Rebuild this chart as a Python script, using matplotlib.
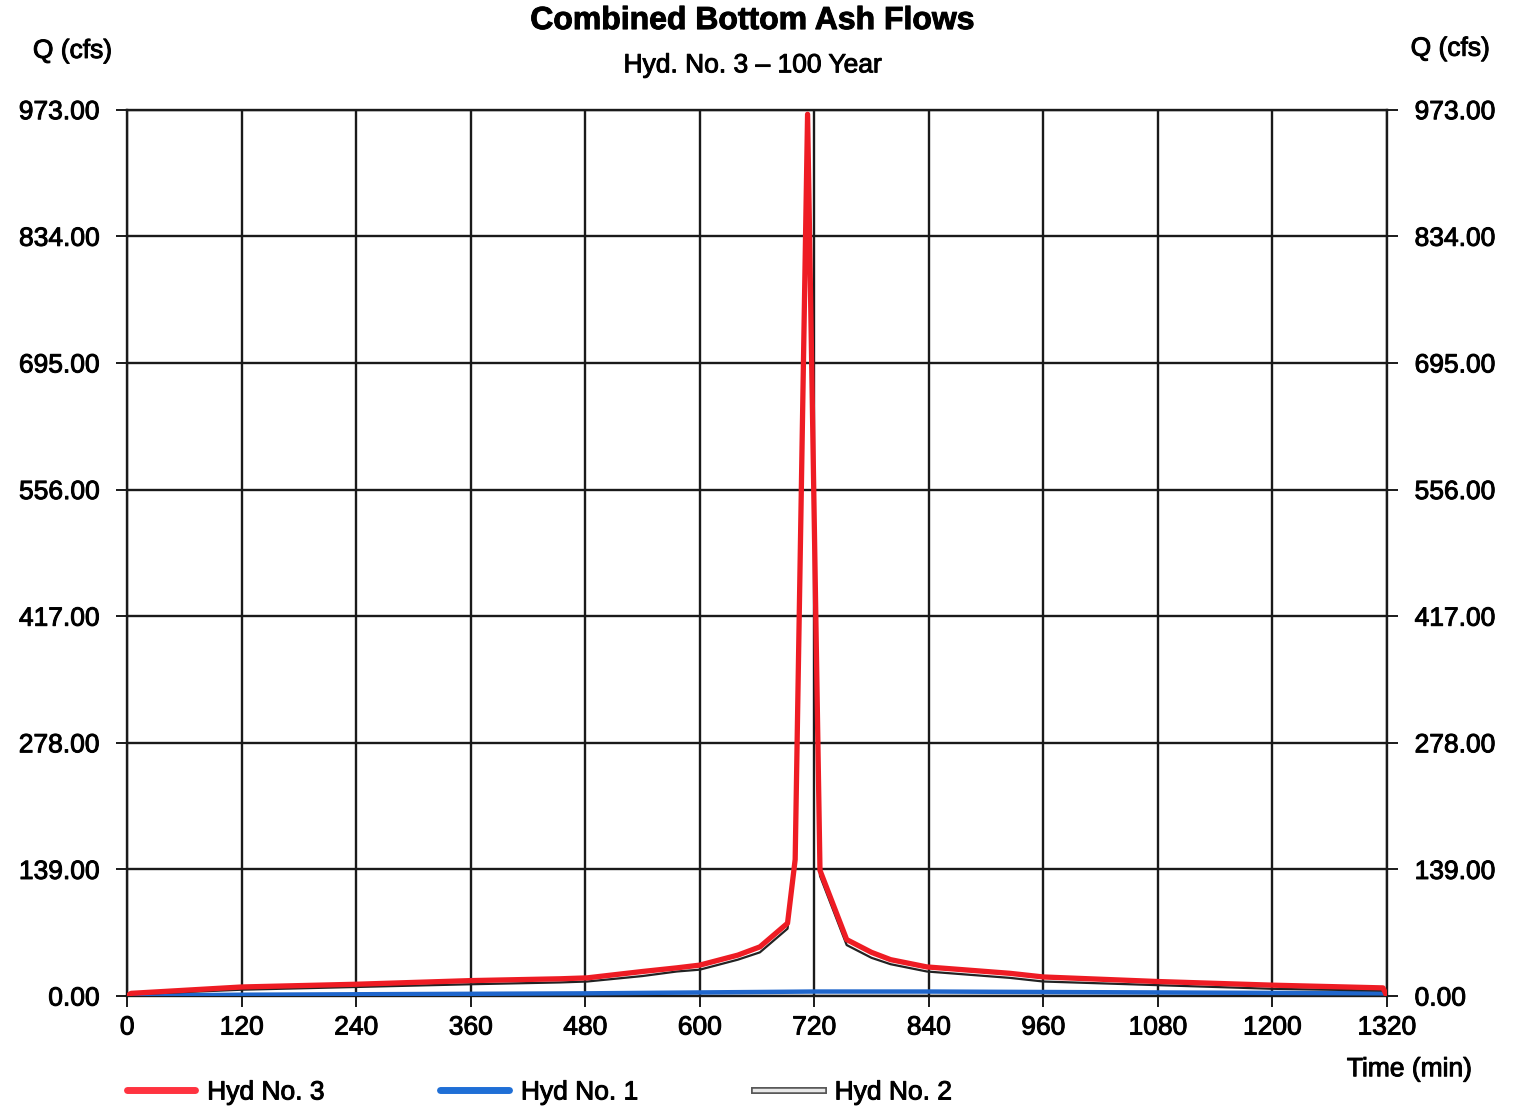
import matplotlib
matplotlib.use("Agg")
import matplotlib.pyplot as plt
from matplotlib.lines import Line2D
import matplotlib.patheffects as pe

plt.rcParams["font.family"] = ["Liberation Sans", "DejaVu Sans"]

# ─── data ────────────────────────────────────────────────────────────────────

Y_TICKS = [0, 139, 278, 417, 556, 695, 834, 973]
X_TICKS = list(range(0, 1321, 120))

# Hyd No. 3 (combined)
t3 = [0, 4, 120, 240, 360, 454, 482, 540, 576, 600, 640, 663, 692, 700, 713,
      726, 754, 780, 800, 838, 925, 960, 1080, 1200, 1316, 1320]
q3 = [0, 3, 10, 13, 17, 19, 20, 27, 31, 34, 45, 54, 80, 150, 968,
      138, 62, 48, 40, 32, 25, 21, 16, 12, 9, 0]

# Hyd No. 1
t1 = [0, 120, 240, 360, 480, 600, 720, 840, 960, 1080, 1200, 1320]
q1 = [0.5, 1.5, 2.0, 2.5, 3.0, 4.0, 5.0, 5.0, 4.5, 4.0, 3.5, 3.0]

# Hyd No. 2
t2 = [0, 4, 120, 240, 360, 454, 482, 540, 576, 600, 640, 663, 692, 700, 713,
      726, 754, 780, 800, 838, 925, 960, 1080, 1200, 1316, 1320]
q2 = [0, 2, 7, 10, 13, 15, 16, 22, 27, 29, 40, 48, 74, 144, 963,
      132, 56, 42, 35, 27, 20, 16, 12, 8, 6, 0]

# ─── figure ───────────────────────────────────────────────────────────────────

heavy = [pe.withStroke(linewidth=0.7, foreground="black")]

fig = plt.figure(figsize=(15.14, 11.08), dpi=100)
ax = fig.add_axes([0.084, 0.101, 0.832, 0.800])

ax.plot(t1, q1, color="#1f66cc", lw=3.2, zorder=3)
ax.plot(t2, q2, color="#222222", lw=1.6, zorder=4)
ax.plot(t3, q3, color="#ee1c24", lw=3.8, zorder=5)

ax.set_xlim(0, 1320)
ax.set_ylim(0, 973)
ax.set_xticks(X_TICKS)
ax.set_yticks(Y_TICKS)
ax.set_yticklabels([f"{v:.2f}" for v in Y_TICKS])
ax.set_xticklabels([str(v) for v in X_TICKS])
ax.grid(True, color="#1a1a1a", lw=1.7)
ax.set_axisbelow(True)
for s in ax.spines.values():
    s.set_color("#1a1a1a")
    s.set_linewidth(1.7)

ax.tick_params(axis="both", labelsize=19, length=8, width=1.4, color="#1a1a1a",
               right=True, labelright=True)
ax.tick_params(axis="y", pad=12)
ax.tick_params(axis="x", pad=6)
for lbl in ax.get_xticklabels() + ax.get_yticklabels():
    lbl.set_path_effects(heavy)

fig.text(0.497, 0.981, "Combined Bottom Ash Flows", ha="center", va="center",
         fontsize=23, fontweight="bold", path_effects=heavy)
fig.text(0.497, 0.941, "Hyd. No. 3 \u2013 100 Year", ha="center", va="center",
         fontsize=19, path_effects=heavy)
fig.text(0.048, 0.954, "Q (cfs)", ha="center", va="center", fontsize=19,
         path_effects=heavy)
fig.text(0.958, 0.956, "Q (cfs)", ha="center", va="center", fontsize=19,
         path_effects=heavy)
fig.text(0.931, 0.035, "Time (min)", ha="center", va="center", fontsize=19,
         path_effects=heavy)

handles = [
    Line2D([], [], color="#ff3340", lw=5, solid_capstyle="round"),
    Line2D([], [], color="#1f6fd6", lw=5, solid_capstyle="round"),
    Line2D([], [], color="#e8e8e8", lw=2.5,
           path_effects=[pe.Stroke(linewidth=5, foreground="#555555"), pe.Normal()]),
]
leg = fig.legend(handles, ["Hyd No. 3", "Hyd No. 1", "Hyd No. 2"],
                 loc="center left", bbox_to_anchor=(0.068, 0.014), ncol=3,
                 frameon=False, fontsize=19, handlelength=2.6, columnspacing=4.4,
                 handletextpad=0.45)
for txt in leg.get_texts():
    txt.set_path_effects(heavy)

fig.savefig("out.png", dpi=100)
